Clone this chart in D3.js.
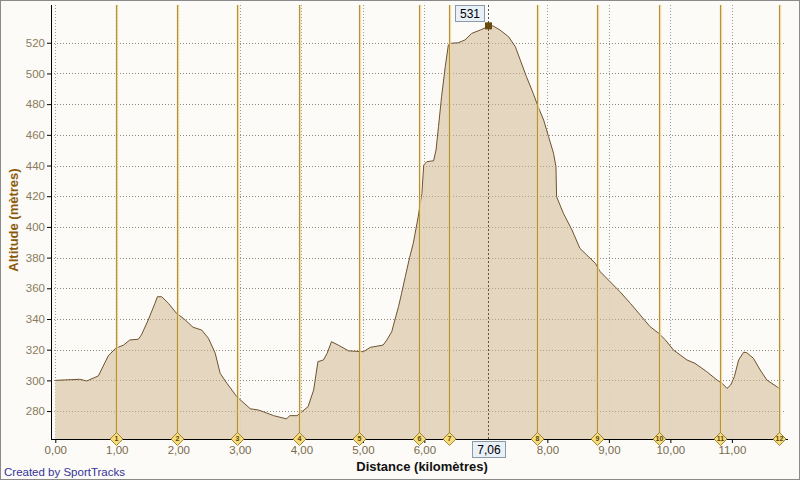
<!DOCTYPE html>
<html><head><meta charset="utf-8">
<script src="https://cdn.jsdelivr.net/npm/d3@7"></script>
<style>
html,body{margin:0;padding:0;background:#fff;}
svg{display:block;font-family:"Liberation Sans",Arial,sans-serif;}
</style></head>
<body>
<svg id="c" width="800" height="480"></svg>
<script>
const distKm = [0,0.40,0.51,0.70,0.86,0.98,1.11,1.21,1.35,1.40,1.51,1.62,1.66,1.73,1.84,1.97,2.08,2.24,2.38,2.49,2.60,2.68,2.79,2.95,3.17,3.30,3.38,3.55,3.76,3.81,3.93,3.98,4.11,4.20,4.27,4.36,4.42,4.49,4.60,4.77,5.01,5.12,5.33,5.39,5.47,5.52,5.58,5.63,5.69,5.76,5.82,5.90,5.96,5.99,6.04,6.15,6.19,6.23,6.28,6.34,6.39,6.42,6.55,6.66,6.77,6.91,7.06,7.12,7.23,7.37,7.48,7.56,7.66,7.77,7.85,7.94,8.02,8.10,8.14,8.15,8.26,8.40,8.53,8.64,8.78,8.86,9.02,9.18,9.35,9.51,9.67,9.81,9.92,10.05,10.27,10.40,10.59,10.76,10.84,10.92,10.98,11.04,11.11,11.19,11.24,11.35,11.46,11.57,11.73,11.76];
const altM = [300,300.7,299.6,302.9,315.9,320.9,323,326.3,326.8,329.6,339.3,350.2,354.5,354.5,350.2,343.7,340.5,334.6,332.8,327.4,317.7,304.6,298.1,289.4,281.5,280.7,279.6,277,274.9,277,277,278.6,282.9,293.7,312.2,313.3,317.7,325.2,323,319.2,318.7,321.5,323,326.3,331.7,339.3,348,356.7,367.6,380,389.3,406.6,421.9,440.3,442.5,443.1,450.1,465.3,484.8,504.4,518.5,519.6,520,521.8,526.1,528.3,531,530.9,528.3,523.9,517.4,508.7,497.9,487,478.3,469.6,458.8,448,439.2,419.7,408.9,398,386,381.7,376.3,370.8,364.3,357.8,350.2,342.6,335,330.7,326.3,319.8,313.3,311.1,305.7,300.2,298.1,294.8,296.9,302.4,313.3,318.3,318.1,314.4,306.8,300.2,295.9,295];
const markerKm = [0.982,1.974,2.960,3.963,4.934,5.906,6.403,7.839,8.814,9.813,10.810,11.769];
const markerLabels = ["1","2","3","4","5","6","7","8","9","10","11","12"];
const xTicks = [0,1,2,3,4,5,6,8,9,10,11];
const yTicks = [280,300,320,340,360,380,400,420,440,460,480,500,520];
const cursorKm = 7.06, cursorAlt = 531;

const svg = d3.select("#c");
const W=800,H=480;
svg.append("rect").attr("x",0.5).attr("y",0.5).attr("width",W-1).attr("height",H-1)
  .attr("fill","#fcfbf7").attr("stroke","#8a8a8a");

const x = d3.scaleLinear().domain([-0.07,11.88]).range([51,786]);
const y = d3.scaleLinear().domain([261.6,544.6]).range([439.3,5]);
const fmt = v => d3.format(".2f")(v).replace(".",",");
const cxr = Math.round(x(cursorKm))-1.5;

// grid
const g = svg.append("g");
g.selectAll("line.hg").data(yTicks).join("line")
  .attr("x1",51).attr("x2",786).attr("y1",d=>Math.round(y(d))+0.5).attr("y2",d=>Math.round(y(d))+0.5)
  .attr("stroke","#9a9a9a").attr("stroke-dasharray","1,2");
g.selectAll("line.vg").data(xTicks).join("line")
  .attr("y1",5).attr("y2",439).attr("x1",d=>Math.round(x(d))+0.5).attr("x2",d=>Math.round(x(d))+0.5)
  .attr("stroke","#9a9a9a").attr("stroke-dasharray","1,2");

// area
const pts = distKm.map((d,i)=>[d,altM[i]]);
svg.append("path").datum(pts)
  .attr("d",d3.area().x(d=>x(d[0])).y0(y.range()[0]).y1(d=>y(d[1])))
  .attr("fill","#e2d2ba").attr("fill-opacity",0.92);
svg.append("g").selectAll("line").data(yTicks).join("line")
  .attr("x1",51).attr("x2",786).attr("y1",d=>Math.round(y(d))+0.5).attr("y2",d=>Math.round(y(d))+0.5)
  .attr("stroke","#8a7a66").attr("stroke-opacity",0.55).attr("stroke-dasharray","1,2");
svg.append("path").datum(pts)
  .attr("d",d3.line().x(d=>x(d[0])).y(d=>y(d[1])))
  .attr("fill","none").attr("stroke","#6e5330").attr("stroke-width",1);

// marker lines
const mk = svg.append("g");
mk.selectAll("line.glow").data(markerKm).join("line")
  .attr("x1",d=>Math.round(x(d))+1.5).attr("x2",d=>Math.round(x(d))+1.5).attr("y1",5).attr("y2",439)
  .attr("stroke","#f3e2a6").attr("stroke-width",1.5).attr("opacity",0.8);
mk.selectAll("line.m").data(markerKm).join("line")
  .attr("x1",d=>Math.round(x(d))+0.5).attr("x2",d=>Math.round(x(d))+0.5).attr("y1",5).attr("y2",439)
  .attr("stroke","#b8913a").attr("stroke-width",1.2);

// cursor line
svg.append("line").attr("x1",cxr).attr("x2",cxr)
  .attr("y1",5).attr("y2",439).attr("stroke","#555").attr("stroke-dasharray","2,2");

// axes
const yAxis = d3.axisLeft(y).tickValues(yTicks).tickSize(4).tickFormat(d3.format("d"));
const ya = svg.append("g").attr("transform","translate(51,0)").call(yAxis);
ya.select(".domain").remove();
ya.selectAll(".tick line").attr("stroke","#000");
ya.selectAll(".tick text").attr("fill","#8a7c60").attr("font-size",11.5).attr("x",-6)
  .attr("font-family","'Liberation Sans',Arial,sans-serif");
svg.append("line").attr("x1",51.5).attr("x2",51.5).attr("y1",5).attr("y2",440).attr("stroke","#000");

const xAxis = d3.axisBottom(x).tickValues(xTicks).tickSize(4).tickFormat(fmt);
const xa = svg.append("g").attr("transform","translate(0,439)").call(xAxis);
xa.select(".domain").remove();
xa.selectAll(".tick line").attr("stroke","#000");
xa.selectAll(".tick text").attr("fill","#7a6a4e").attr("font-size",11.5).attr("dy","0.75em").attr("y",6)
  .attr("font-family","'Liberation Sans',Arial,sans-serif");
svg.append("line").attr("x1",51).attr("x2",788).attr("y1",439.5).attr("y2",439.5).attr("stroke","#000");

// diamond markers
const dm = svg.append("g").selectAll("g").data(markerKm).join("g")
  .attr("transform",d=>`translate(${Math.round(x(d))+0.5},439)`);
dm.append("path").attr("d","M0,-6.5L6.5,0L0,6.5L-6.5,0Z").attr("fill","#f6dc7a").attr("stroke","#8a6d1e").attr("stroke-width",0.8);
dm.append("text").text((d,i)=>markerLabels[i]).attr("text-anchor","middle").attr("dy","0.35em")
  .attr("font-size",7).attr("font-weight","bold").attr("fill","#5a4410");

// cursor point and labels
const cy = y(cursorAlt);
svg.append("rect").attr("x",cxr-3.5).attr("y",cy-3.5).attr("width",7).attr("height",7).attr("fill","#6b4a10");
svg.append("rect").attr("x",cxr-33).attr("y",5.5).attr("width",29).attr("height",16)
  .attr("fill","#e8f0f8").attr("stroke","#8c99a6");
svg.append("text").attr("x",cxr-18.5).attr("y",18).attr("text-anchor","middle").attr("font-size",12)
  .attr("fill","#000").text(cursorAlt);
svg.append("rect").attr("x",cxr-16).attr("y",441.5).attr("width",33).attr("height",16)
  .attr("fill","#e8f0f8").attr("stroke","#8c99a6");
svg.append("text").attr("x",cxr+0.5).attr("y",454).attr("text-anchor","middle").attr("font-size",12)
  .attr("fill","#000").text(fmt(cursorKm));

// titles
svg.append("text").attr("x",422).attr("y",471).attr("text-anchor","middle").attr("font-size",13)
  .attr("font-weight","bold").attr("fill","#111").text("Distance (kilomètres)");
svg.append("text").attr("transform","translate(18,220) rotate(-90)").attr("text-anchor","middle")
  .attr("font-size",13).attr("font-weight","bold").attr("fill","#8b5a0a").text("Altitude (mètres)");
svg.append("text").attr("x",4).attr("y",476).attr("font-size",11.5).attr("fill","#33339a").text("Created by SportTracks");
</script>
</body></html>
